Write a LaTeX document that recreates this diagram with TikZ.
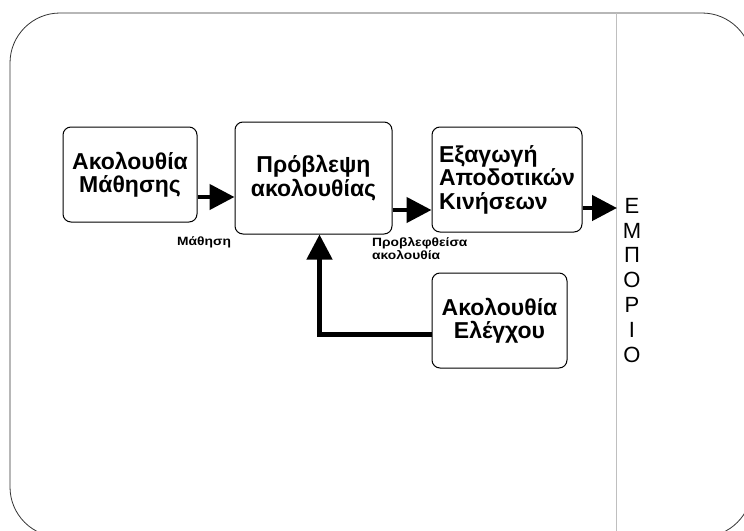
\documentclass[tikz,border=0pt]{standalone}
\usepackage{fontspec}
\setmainfont{Liberation Sans}
\usetikzlibrary{arrows.meta}
% slightly widened small caption text
\newcommand{\widetag}[1]{\scalebox{1.15}[1]{#1}}
\begin{document}
\begin{tikzpicture}[x=1pt,y=-1pt,
  frame/.style={draw=black!80,line width=0.8pt,rounded corners=50pt},
  divider/.style={draw=black!25,line width=0.7pt},
  stage/.style={draw=black,line width=1pt,rounded corners=8pt,inner sep=0pt,
    font=\bfseries\fontsize{23}{23.5}\selectfont},
  flow/.style={draw=black,line width=4.5pt,
    -{Triangle[length=25pt,width=25pt]}},
  tag/.style={inner sep=0pt,font=\bfseries\fontsize{12}{13}\selectfont,align=left},
  market/.style={inner sep=0pt,font=\fontsize{22}{24.8}\selectfont,align=center}]
\useasboundingbox (0,0) rectangle (744,530);
% outer frame and market divider
\draw[frame] (10,13) rectangle (752,537);
\draw[divider] (616,13) -- (616,537);
% processing stages
\node[stage,minimum width=134pt,minimum height=95pt,align=center]
  (learn) at (130,174.5) {Ακολουθία\\Μάθησης};
\node[stage,minimum width=157pt,minimum height=112pt,align=center]
  (predict) at (313.5,178) {Πρόβλεψη\\ακολουθίας};
\node[stage,minimum width=150pt,minimum height=105pt,align=left]
  (extract) at (507,179.5) {Εξαγωγή\\Αποδοτικών\\Κινήσεων};
\node[stage,minimum width=135pt,minimum height=95pt,align=center]
  (control) at (499.5,320.5) {Ακολουθία\\Ελέγχου};
% market label
\node[market,anchor=north] (shop) at (632,198) {Ε\\Μ\\Π\\Ο\\Ρ\\Ι\\Ο};
% helper points for the connectors
\coordinate (y1) at (0,197);
\coordinate (y2) at (0,210);
\coordinate (y3) at (0,208);
\coordinate (y4) at (0,334.5);
\coordinate (x4) at (319.5,0);
\coordinate (mkt) at (617,208);
% connectors
\draw[flow] (learn.east |- y1) -- (predict.west |- y1);
\draw[flow] (predict.east |- y2) -- (extract.west |- y2);
\draw[flow] (extract.east |- y3) -- (mkt);
\draw[flow] (control.west |- y4) -| (predict.south -| x4);
% connector labels (base anchor sits on the last line)
\node[tag,anchor=base west] (lbl1) at (177,245) {\widetag{Μάθηση}};
\node[tag,anchor=base west] (lbl2) at (372,259)
  {\widetag{Προβλεφθείσα}\\\widetag{ακολουθία}};
\end{tikzpicture}
\end{document}
